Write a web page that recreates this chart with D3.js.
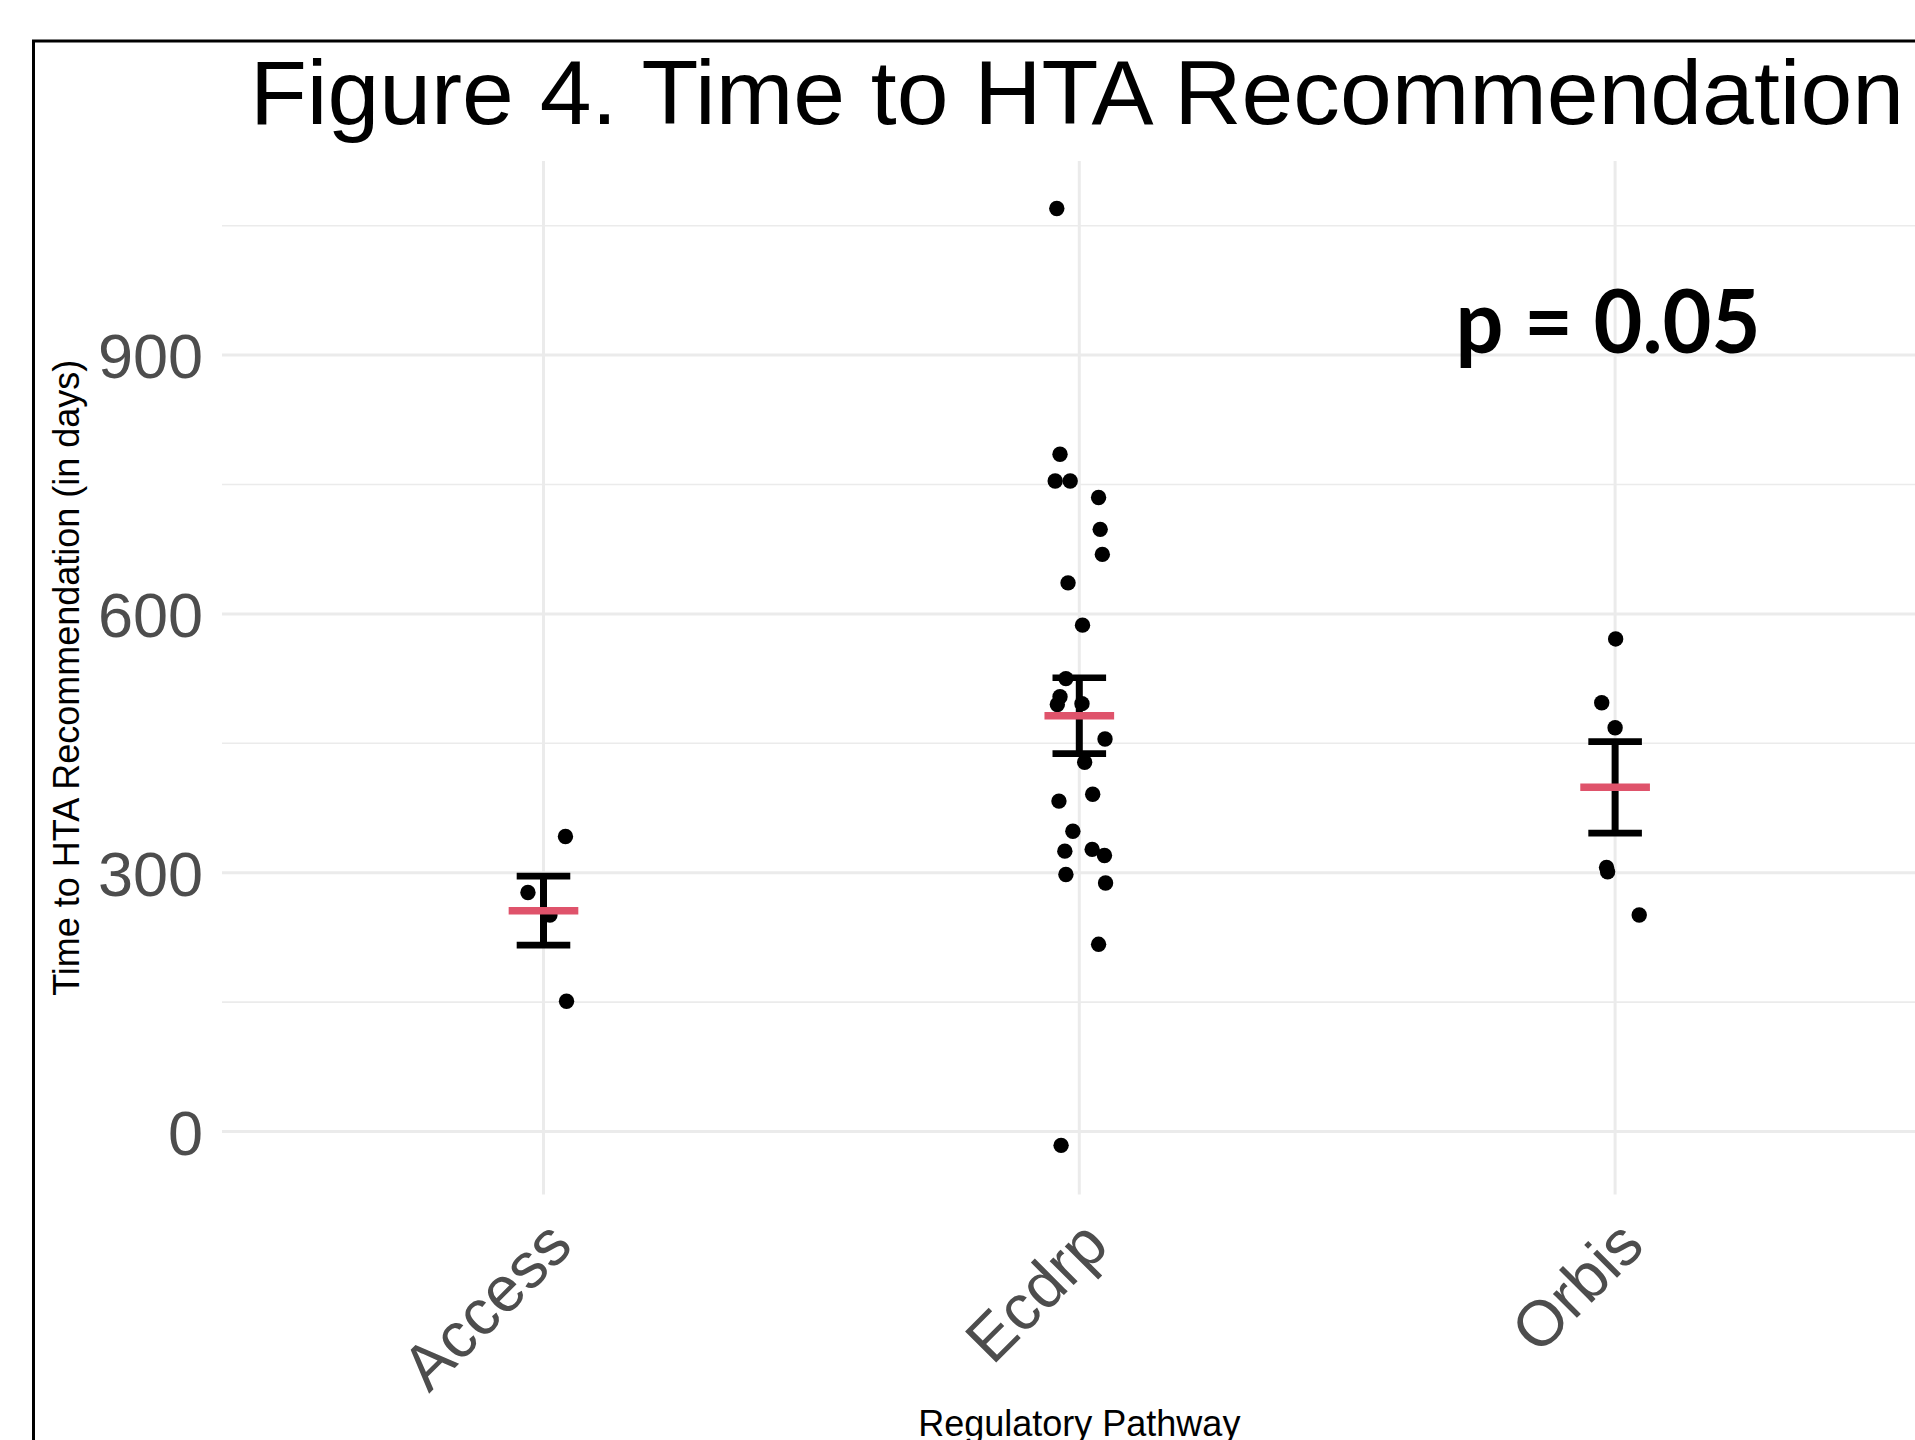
<!DOCTYPE html>
<html>
<head>
<meta charset="utf-8">
<script src="https://cdn.jsdelivr.net/npm/d3@7"></script>
<style>
    body { margin: 0; background: #fff; }
    svg { display: block; }
</style>
</head>
<body>
<div class="container"></div>
<script>
// values
const categories = ["Access", "Ecdrp", "Orbis"];
const accessDays = [342, 277, 251, 151];
const accessJitter = [0.041, -0.029, 0.012, 0.043];
const ecdrpDays = [1070, 785, 754, 754, 735, 698, 669, 636, 587, 525, 504, 495, 496, 455, 428, 391, 383, 348, 325, 327, 320, 298, 288, 217, -16];
const ecdrpJitter = [-0.042, -0.036, -0.045, -0.017, 0.036, 0.039, 0.043, -0.021, 0.006, -0.025, -0.036, -0.041, 0.005, 0.048, 0.010, 0.025, -0.038, -0.012, -0.027, 0.024, 0.047, -0.025, 0.049, 0.036, -0.034];
const orbisDays = [571, 497, 468, 306, 301, 251];
const orbisJitter = [0.001, -0.025, 0, -0.016, -0.014, 0.045];
const groupMeans = [256, 482, 399];
const groupSE = [40, 44, 53];
const yTicks = [0, 300, 600, 900];
const yMinor = [150, 450, 750, 1050];
const pLabel = "p = 0.05";

let width = 1915,
    height = 1440,
    panel = { left: 222, right: 1936.6, top: 161, bottom: 1194.5 };

let svg = d3.select(".container")
    .append("svg")
    .attr("width", width)
    .attr("height", height)
    .style("font-family", "'Liberation Sans', Arial, sans-serif");

svg.append("rect")
    .attr("width", width)
    .attr("height", height)
    .attr("fill", "#fff");

let x = d3.scaleLinear()
    .domain([0.4, 3.6])
    .range([panel.left, panel.right]);

let y = d3.scaleLinear()
    .domain([-73, 1125])
    .range([panel.bottom, panel.top]);

// points, one row per observation
let points = [];
[accessDays, ecdrpDays, orbisDays].forEach((vals, i) => {
    let jit = [accessJitter, ecdrpJitter, orbisJitter][i];
    vals.forEach((v, j) => {
        points.push({ group: i + 1, days: v, jitter: jit[j] });
    });
});

let grid = svg.append("g").attr("class", "grid");

grid.selectAll(".minor")
    .data(yMinor)
    .enter()
    .append("line")
    .attr("x1", panel.left)
    .attr("x2", panel.right)
    .attr("y1", function (d) { return y(d); })
    .attr("y2", function (d) { return y(d); })
    .attr("stroke", "#EBEBEB")
    .attr("stroke-width", 1.6);

grid.selectAll(".major")
    .data(yTicks)
    .enter()
    .append("line")
    .attr("x1", panel.left)
    .attr("x2", panel.right)
    .attr("y1", function (d) { return y(d); })
    .attr("y2", function (d) { return y(d); })
    .attr("stroke", "#EBEBEB")
    .attr("stroke-width", 3);

grid.selectAll(".vert")
    .data([1, 2, 3])
    .enter()
    .append("line")
    .attr("x1", function (d) { return x(d); })
    .attr("x2", function (d) { return x(d); })
    .attr("y1", panel.top)
    .attr("y2", panel.bottom)
    .attr("stroke", "#EBEBEB")
    .attr("stroke-width", 3);

// y axis labels
let yAxis = svg.append("g")
    .attr("transform", "translate(" + panel.left + ",0)")
    .call(d3.axisLeft(y).tickValues(yTicks).tickSize(0).tickPadding(19));
yAxis.select(".domain").remove();
yAxis.selectAll("text")
    .attr("font-family", "'Liberation Sans', Arial, sans-serif")
    .attr("font-size", 63)
    .attr("fill", "#4D4D4D")
    .attr("dy", "0.36em");

// x axis labels, rotated
let xAxis = svg.append("g")
    .attr("transform", "translate(0," + panel.bottom + ")")
    .call(d3.axisBottom(x).tickValues([1, 2, 3]).tickSize(0).tickFormat(function (d) {
        return categories[d - 1];
    }));
xAxis.select(".domain").remove();
xAxis.selectAll("text")
    .attr("font-family", "'Liberation Sans', Arial, sans-serif")
    .attr("font-size", 64)
    .attr("fill", "#4D4D4D")
    .attr("text-anchor", "end")
    .attr("x", 31)
    .attr("y", 53.5)
    .attr("dy", 0)
    .attr("transform", "rotate(-45,31,53.5)");

// jittered points
svg.append("g")
    .selectAll("circle")
    .data(points)
    .enter()
    .append("circle")
    .attr("cx", function (d) { return x(d.group + d.jitter); })
    .attr("cy", function (d) { return y(d.days); })
    .attr("r", 7.7)
    .attr("fill", "black");

// error bars (mean +/- se)
let bars = svg.append("g")
    .selectAll("g")
    .data(groupMeans)
    .enter()
    .append("g");

bars.append("line")
    .attr("x1", function (d, i) { return x(i + 1); })
    .attr("x2", function (d, i) { return x(i + 1); })
    .attr("y1", function (d, i) { return y(d + groupSE[i]); })
    .attr("y2", function (d, i) { return y(d - groupSE[i]); })
    .attr("stroke", "black")
    .attr("stroke-width", 7);

bars.selectAll(".cap")
    .data(function (d, i) { return [[i, d + groupSE[i]], [i, d - groupSE[i]]]; })
    .enter()
    .append("line")
    .attr("x1", function (d) { return x(d[0] + 1 - 0.05); })
    .attr("x2", function (d) { return x(d[0] + 1 + 0.05); })
    .attr("y1", function (d) { return y(d[1]); })
    .attr("y2", function (d) { return y(d[1]); })
    .attr("stroke", "black")
    .attr("stroke-width", 6.7);

bars.append("line")
    .attr("x1", function (d, i) { return x(i + 1 - 0.065); })
    .attr("x2", function (d, i) { return x(i + 1 + 0.065); })
    .attr("y1", function (d) { return y(d); })
    .attr("y2", function (d) { return y(d); })
    .attr("stroke", "#DF536B")
    .attr("stroke-width", 7.5);

// annotation
svg.append("text")
    .attr("x", 1608)
    .attr("y", 353)
    .attr("text-anchor", "middle")
    .attr("font-family", "Lato, 'Open Sans', sans-serif")
    .attr("font-weight", "bold")
    .attr("font-size", 88)
    .attr("textLength", 305)
    .attr("lengthAdjust", "spacingAndGlyphs")
    .text(pLabel);

// titles
svg.append("text")
    .attr("x", 250)
    .attr("y", 124)
    .attr("font-size", 91)
    .attr("fill", "black")
    .attr("textLength", 1654)
    .attr("lengthAdjust", "spacingAndGlyphs")
    .text("Figure 4. Time to HTA Recommendation");

svg.append("text")
    .attr("transform", "translate(79," + ((panel.top + panel.bottom) / 2) + ") rotate(-90)")
    .attr("text-anchor", "middle")
    .attr("font-size", 36)
    .attr("fill", "black")
    .text("Time to HTA Recommendation (in days)");

svg.append("text")
    .attr("x", (panel.left + panel.right) / 2)
    .attr("y", 1436)
    .attr("text-anchor", "middle")
    .attr("font-size", 36)
    .attr("fill", "black")
    .text("Regulatory Pathway");

// outer frame
svg.append("rect")
    .attr("x", 33.5)
    .attr("y", 41)
    .attr("width", 2000)
    .attr("height", 2000)
    .attr("fill", "none")
    .attr("stroke", "black")
    .attr("stroke-width", 3);
</script>
</body>
</html>
